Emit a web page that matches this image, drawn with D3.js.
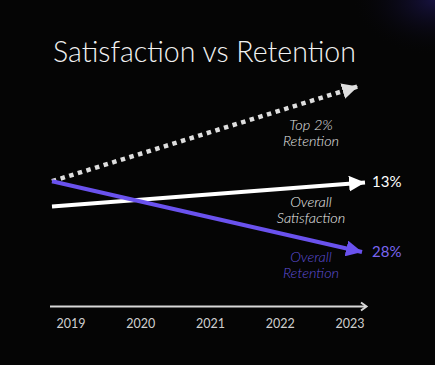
<!DOCTYPE html>
<html>
<head>
<meta charset="utf-8">
<script src="https://cdn.jsdelivr.net/npm/d3@7"></script>
<style>
  html, body { margin: 0; padding: 0; background: #050505; }
  svg { display: block; }
</style>
</head>
<body>
<div id="chart"></div>
<script>
// Satisfaction vs Retention (conceptual trend chart)

const years = ['2019', '2020', '2021', '2022', '2023'];

// start / end index values (arbitrary units)
const top2Retention = [52, 91.5];
const overallSatisfaction = [41.5, 51.5];
const overallRetention = [52, 22.5];

const endLabels = ['', '13%', '28%'];
const seriesNames = [['Top 2%', 'Retention'], ['Overall', 'Satisfaction'], ['Overall', 'Retention']];

const width = 435;
const height = 365;

const svg = d3.select('#chart')
  .append('svg')
  .attr('width', width)
  .attr('height', height);

const defs = svg.append('defs');

const glow = defs.append('radialGradient')
  .attr('id', 'glow')
  .attr('cx', '1').attr('cy', '0').attr('r', '0.7');
glow.append('stop').attr('offset', '0%').attr('stop-color', '#171240');
glow.append('stop').attr('offset', '100%').attr('stop-color', '#050505').attr('stop-opacity', 0);

svg.append('rect')
  .attr('width', width)
  .attr('height', height)
  .attr('fill', '#050505');

svg.append('rect')
  .attr('x', 315).attr('y', 0)
  .attr('width', 120).attr('height', 80)
  .attr('fill', 'url(#glow)');

function marker(id, color, size) {
  defs.append('marker')
    .attr('id', id)
    .attr('viewBox', '0 0 10 10')
    .attr('refX', 10).attr('refY', 5)
    .attr('markerWidth', size).attr('markerHeight', size)
    .attr('markerUnits', 'userSpaceOnUse')
    .attr('orient', 'auto')
    .append('path')
    .attr('d', 'M0,0 L10,5 L0,10 Z')
    .attr('fill', color);
}
marker('arrowGrey', '#dedede', 16);
marker('arrowWhite', '#ffffff', 16);
marker('arrowPurple', '#6a52ee', 16);

const x = d3.scalePoint()
  .domain(years)
  .range([53, 367])
  .padding(0.25);

const y = d3.scaleLinear()
  .domain([0, 100])
  .range([306, 66]);

const xStart = x.range()[0] - 1;
const xEnd = x.range()[1] - 2;

// title
svg.append('text')
  .attr('x', 53)
  .attr('y', 62)
  .attr('fill', '#f2f2f2')
  .attr('font-family', 'Lato, "Open Sans", sans-serif')
  .attr('font-weight', 300)
  .attr('font-size', 28.5)
  .text('Satisfaction vs Retention');

const series = [
  { values: top2Retention, color: '#dedede', dash: '4.5 4.5', marker: 'arrowGrey', width: 4.5, trim: 7 },
  { values: overallSatisfaction, color: '#ffffff', dash: null, marker: 'arrowWhite', width: 4, trim: 0 },
  { values: overallRetention, color: '#6a52ee', dash: null, marker: 'arrowPurple', width: 4, trim: 3 }
];

series.forEach(s => {
  const line = d3.line()
    .x((d, i) => i === 0 ? xStart : xEnd - s.trim)
    .y(d => y(d));
  svg.append('path')
    .datum(s.values)
    .attr('fill', 'none')
    .attr('stroke', s.color)
    .attr('stroke-width', s.width)
    .attr('stroke-dasharray', s.dash)
    .attr('marker-end', 'url(#' + s.marker + ')')
    .attr('d', line);
});

// end values
const labelColors = ['#d8d8d8', '#ffffff', '#7a66f0'];
series.forEach((s, i) => {
  if (!endLabels[i]) return;
  svg.append('text')
    .attr('x', xEnd + 7)
    .attr('y', y(s.values[1]) + 5)
    .attr('fill', labelColors[i])
    .attr('font-family', 'Lato, sans-serif')
    .attr('font-size', 15)
    .text(endLabels[i]);
});

// series names, one text per line
const nameColors = ['#e4e4e4', '#eeeeee', '#5f4fd8'];
const nameY = [130, 207, 262];
seriesNames.forEach((n, i) => {
  n.forEach((w, j) => {
    svg.append('text')
      .attr('x', 311)
      .attr('y', nameY[i] + j * 16)
      .attr('text-anchor', 'middle')
      .attr('fill', nameColors[i])
      .attr('font-family', 'Lato, sans-serif')
      .attr('font-style', 'italic')
      .attr('font-weight', 300)
      .attr('font-size', 14.5)
      .text(w);
  });
});

// x axis with arrow
const axis = svg.append('g')
  .attr('transform', 'translate(0,306.5)')
  .call(d3.axisBottom(x).tickSize(0).tickPadding(13));

axis.select('.domain').remove();
axis.append('line')
  .attr('x1', 50).attr('x2', 366)
  .attr('stroke', '#d8d8d8')
  .attr('stroke-width', 2);
axis.append('path')
  .attr('d', 'M361,-4 L366.5,0 L361,4')
  .attr('fill', 'none')
  .attr('stroke', '#d8d8d8')
  .attr('stroke-width', 2);

axis.selectAll('.tick text')
  .attr('fill', '#cfcfcf')
  .attr('font-family', 'Lato, sans-serif')
  .attr('font-size', 12.5);
</script>
</body>
</html>
